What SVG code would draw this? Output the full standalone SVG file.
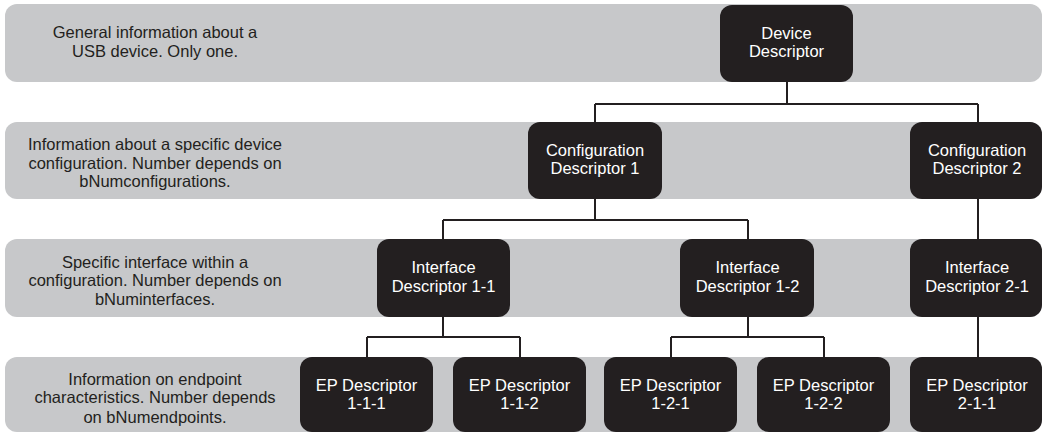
<svg xmlns="http://www.w3.org/2000/svg" width="1043" height="432" viewBox="0 0 1043 432">
<style>
.band{fill:#c7c8ca}
.node{fill:#231f20}
.nt{fill:#ffffff;font-family:"Liberation Sans",Arial,sans-serif;font-size:16.5px;text-anchor:middle}
.dt{fill:#231f20;font-family:"Liberation Sans",Arial,sans-serif;font-size:16.5px;text-anchor:middle}
.conn{fill:none;stroke:#231f20;stroke-width:2}
</style>
<rect width="1043" height="432" fill="#ffffff"/>
<g id="bands">
<rect class="band" x="5" y="4" width="1037" height="78" rx="12"/>
<rect class="band" x="5" y="122" width="1037" height="77" rx="12"/>
<rect class="band" x="5" y="239" width="1037" height="78" rx="12"/>
<rect class="band" x="5" y="357" width="1037" height="75" rx="12"/>
</g>
<g id="descriptions">
<text class="dt" x="155" y="37.7">General information about a</text>
<text class="dt" x="155" y="56.7">USB device. Only one.</text>
<text class="dt" x="155" y="150">Information about a specific device</text>
<text class="dt" x="155" y="168.5">configuration. Number depends on</text>
<text class="dt" x="155" y="187">bNumconfigurations.</text>
<text class="dt" x="155" y="267.7">Specific interface within a</text>
<text class="dt" x="155" y="286">configuration. Number depends on</text>
<text class="dt" x="155" y="305">bNuminterfaces.</text>
<text class="dt" x="155" y="385">Information on endpoint</text>
<text class="dt" x="155" y="403.3">characteristics. Number depends</text>
<text class="dt" x="155" y="422.7">on bNumendpoints.</text>
</g>
<g id="connectors">
<path class="conn" d="M787 82V104M595 104H978M595 104V122M978 104V122"/>
<path class="conn" d="M595 199V220M443 220H748M443 220V239M748 220V239"/>
<path class="conn" d="M978 199V239"/>
<path class="conn" d="M443 317V337M367 337H520M367 337V357M520 337V357"/>
<path class="conn" d="M748 317V337M671 337H824M671 337V357M824 337V357"/>
<path class="conn" d="M978 317V357"/>
</g>
<g id="device">
<rect class="node" x="720" y="5" width="133" height="77" rx="12"/>
<text class="nt" x="786.5" y="38.5">Device</text>
<text class="nt" x="786.5" y="57">Descriptor</text>
</g>
<g id="config1">
<rect class="node" x="528" y="122" width="134" height="77" rx="12"/>
<text class="nt" x="595" y="156">Configuration</text>
<text class="nt" x="595" y="174.3">Descriptor 1</text>
</g>
<g id="config2">
<rect class="node" x="910" y="122" width="132" height="77" rx="12"/>
<text class="nt" x="977" y="156">Configuration</text>
<text class="nt" x="977" y="174.3">Descriptor 2</text>
</g>
<g id="iface11">
<rect class="node" x="377" y="239" width="133" height="78" rx="12"/>
<text class="nt" x="443.5" y="273.3">Interface</text>
<text class="nt" x="443.5" y="291.7">Descriptor 1-1</text>
</g>
<g id="iface12">
<rect class="node" x="680" y="239" width="134" height="78" rx="12"/>
<text class="nt" x="747.5" y="273.3">Interface</text>
<text class="nt" x="747.5" y="291.7">Descriptor 1-2</text>
</g>
<g id="iface21">
<rect class="node" x="910" y="239" width="132" height="78" rx="12"/>
<text class="nt" x="977" y="273.3">Interface</text>
<text class="nt" x="977" y="291.7">Descriptor 2-1</text>
</g>
<g id="ep111">
<rect class="node" x="300" y="357" width="133" height="75" rx="12"/>
<text class="nt" x="366.5" y="390.7">EP Descriptor</text>
<text class="nt" x="366.5" y="409">1-1-1</text>
</g>
<g id="ep112">
<rect class="node" x="453" y="357" width="133" height="75" rx="12"/>
<text class="nt" x="519.5" y="390.7">EP Descriptor</text>
<text class="nt" x="519.5" y="409">1-1-2</text>
</g>
<g id="ep121">
<rect class="node" x="604" y="357" width="133" height="75" rx="12"/>
<text class="nt" x="670.5" y="390.7">EP Descriptor</text>
<text class="nt" x="670.5" y="409">1-2-1</text>
</g>
<g id="ep122">
<rect class="node" x="757" y="357" width="133" height="75" rx="12"/>
<text class="nt" x="823.5" y="390.7">EP Descriptor</text>
<text class="nt" x="823.5" y="409">1-2-2</text>
</g>
<g id="ep211">
<rect class="node" x="910" y="357" width="132" height="75" rx="12"/>
<text class="nt" x="977" y="390.7">EP Descriptor</text>
<text class="nt" x="977" y="409">2-1-1</text>
</g>
</svg>
